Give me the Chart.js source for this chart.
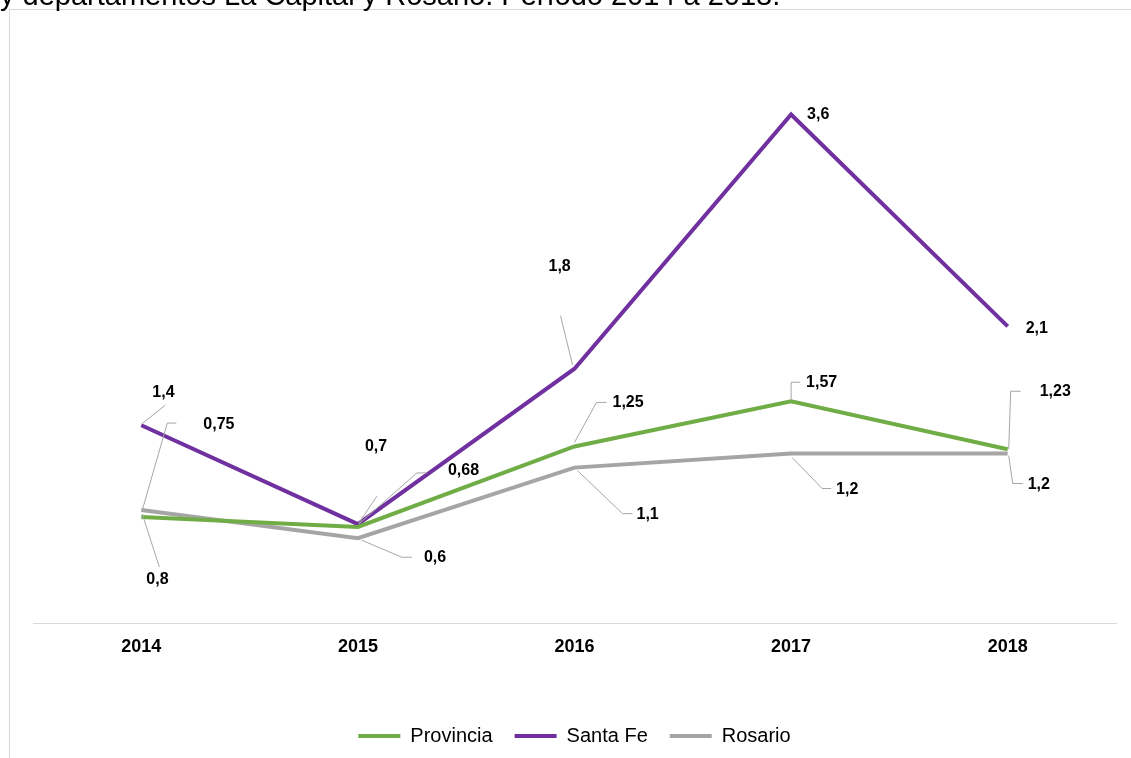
<!DOCTYPE html>
<html>
<head>
<meta charset="utf-8">
<script src="https://cdn.jsdelivr.net/npm/chart.js@4.4.1/dist/chart.umd.min.js"></script>
<style>
  body { margin: 0; background: #fff; }
  #frame { position: absolute; left: 9px; top: 9px; width: 1130px; height: 760px;
           border-left: 1px solid #d9d9d9; border-top: 1px solid #d9d9d9; }
  #chart { position: absolute; left: 0; top: 0; }
</style>
</head>
<body>
<div id="frame"></div>
<canvas id="chart" width="1131" height="758"></canvas>
<script>
// data
const years = ['2014', '2015', '2016', '2017', '2018'];
const provincia = [0.75, 0.68, 1.25, 1.57, 1.23];
const santaFe = [1.4, 0.7, 1.8, 3.6, 2.1];
const rosario = [0.8, 0.6, 1.1, 1.2, 1.2];
const titleText = 'y departamentos La Capital y Rosario. Período 2014 a 2018.';

// label placement: text offset from point and leader line (relative to point)
const labelPos = [
  [ // Provincia
    { t: [62, -92], l: [[1, -7], [26, -94], [35, -94]] },
    { t: [90, -56], l: [[1, -3], [59, -54], [69, -54]] },
    { t: [38, -44], l: [[0, -4], [22, -44], [32, -44]] },
    { t: [15, -19], l: [[0, -1], [0, -19], [9, -19]] },
    { t: [32, -58], l: [[1, 0], [3, -58], [13, -58]] }
  ],
  [ // Santa Fe
    { t: [11, -33], l: [[0, -1], [24, -20]] },
    { t: [7, -78], l: [[1, -1], [19, -28]] },
    { t: [-26, -102], l: [[-2, -4], [-14, -53]] },
    { t: [16, 0], l: null },
    { t: [18, 2], l: null }
  ],
  [ // Rosario
    { t: [5, 70], l: [[1, 4], [18, 57]] },
    { t: [66, 19], l: [[4, 2], [44, 19], [54, 19]] },
    { t: [62, 47], l: [[3, 3], [48, 46], [58, 46]] },
    { t: [45, 36], l: [[1, 4], [31, 35], [40, 35]] },
    { t: [20, 31], l: [[1, 2], [5, 30], [15, 30]] }
  ]
];

const pointLabels = {
  id: 'pointLabels',
  afterDatasetsDraw(chart) {
    const ctx = chart.ctx;
    ctx.save();
    chart.data.datasets.forEach((ds, i) => {
      const meta = chart.getDatasetMeta(i);
      meta.data.forEach((pt, j) => {
        const pos = labelPos[i][j];
        if (pos.l) {
          ctx.beginPath();
          ctx.strokeStyle = '#a6a6a6';
          ctx.lineWidth = 1;
          pos.l.forEach((p, k) => {
            if (k === 0) ctx.moveTo(pt.x + p[0], pt.y + p[1]);
            else ctx.lineTo(pt.x + p[0], pt.y + p[1]);
          });
          ctx.stroke();
        }
        ctx.fillStyle = '#000';
        ctx.font = 'bold 16px "Liberation Sans", Arial, sans-serif';
        ctx.textAlign = 'left';
        ctx.textBaseline = 'middle';
        ctx.fillText(String(ds.data[j]).replace('.', ','), pt.x + pos.t[0], pt.y + pos.t[1]);
      });
    });
    ctx.restore();
  }
};

const topTitle = {
  id: 'topTitle',
  beforeDraw(chart) {
    const ctx = chart.ctx;
    ctx.save();
    ctx.fillStyle = '#000';
    ctx.font = '29px "Liberation Sans", Arial, sans-serif';
    ctx.textAlign = 'left';
    ctx.textBaseline = 'alphabetic';
    ctx.fillText(titleText, 0, 5);
    ctx.restore();
  }
};

new Chart(document.getElementById('chart').getContext('2d'), {
  type: 'line',
  data: {
    labels: years,
    datasets: [
      { label: 'Provincia', data: provincia, borderColor: '#70ad47', backgroundColor: '#70ad47', borderWidth: 4 },
      { label: 'Santa Fe', data: santaFe, borderColor: '#7030a0', backgroundColor: '#7030a0', borderWidth: 4 },
      { label: 'Rosario', data: rosario, borderColor: '#a5a5a5', backgroundColor: '#a5a5a5', borderWidth: 4 }
    ]
  },
  options: {
    responsive: false,
    animation: false,
    devicePixelRatio: 1,
    elements: {
      line: { tension: 0 },
      point: { radius: 0, hoverRadius: 0 }
    },
    layout: { padding: { left: 33, right: 15, top: 58, bottom: 2 } },
    scales: {
      x: {
        offset: true,
        grid: { display: false, drawTicks: false },
        border: { display: true, color: '#d9d9d9', width: 1 },
        ticks: {
          color: '#000',
          padding: 13,
          font: { family: '"Liberation Sans", Arial, sans-serif', size: 18, weight: 'bold' }
        },
        afterFit(scale) { scale.height = 81; }
      },
      y: { display: false, min: 0, max: 4 }
    },
    plugins: {
      legend: {
        position: 'bottom',
        labels: {
          usePointStyle: true,
          pointStyle: 'line',
          pointStyleWidth: 42,
          padding: 22,
          color: '#000',
          font: { family: '"Liberation Sans", Arial, sans-serif', size: 20 }
        }
      },
      tooltip: { enabled: false }
    }
  },
  plugins: [pointLabels, topTitle]
});
</script>
</body>
</html>
